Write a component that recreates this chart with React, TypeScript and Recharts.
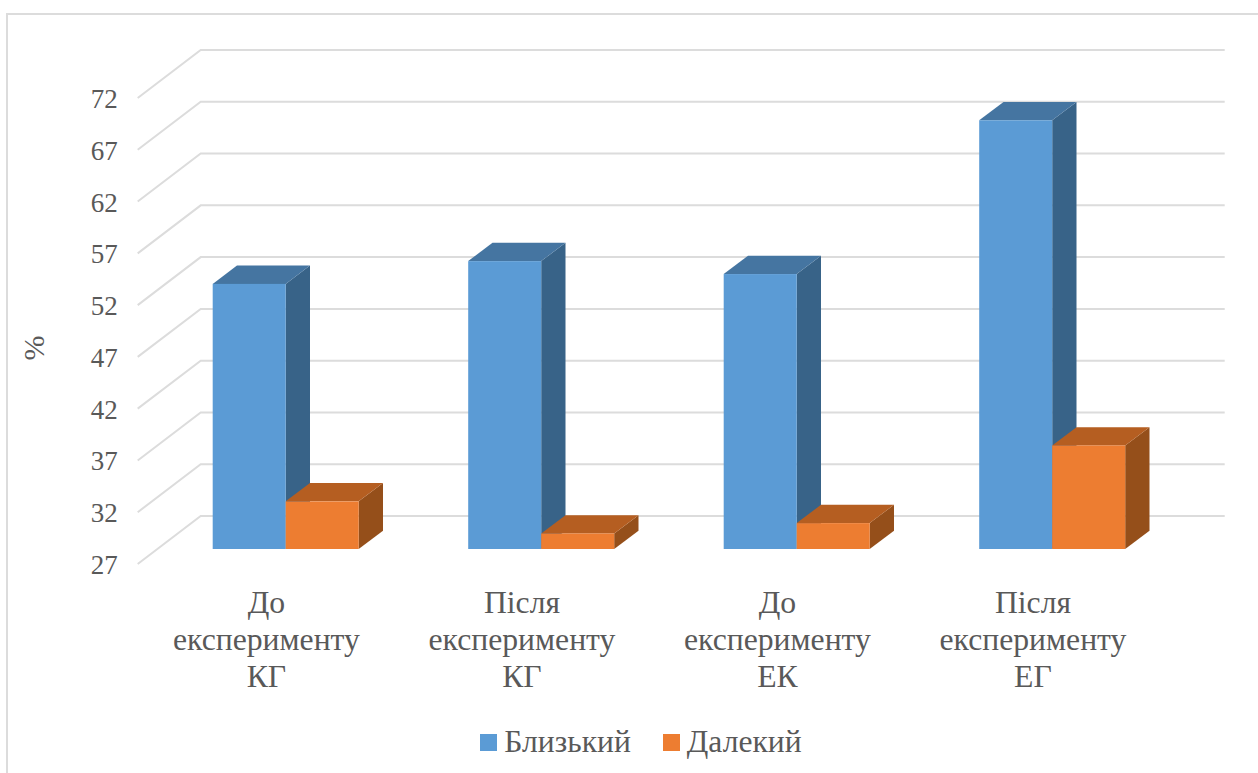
import { BarChart, Bar, XAxis, YAxis, CartesianGrid, Legend, Label } from 'recharts';

const categories = ['До експерименту КГ', 'Після експерименту КГ', 'До експерименту ЕК', 'Після експерименту ЕГ'];
const nearValues = [52.6, 54.8, 53.55, 68.4];
const farValues = [31.6, 28.5, 29.5, 37];
const yTicks = [27, 32, 37, 42, 47, 52, 57, 62, 67, 72];

const data = categories.map((name, i) => ({ name, near: nearValues[i], far: farValues[i] }));

const TEXT_COLOR = '#595959';
const GRID_COLOR = '#dcdcdc';
const FONT = '"Liberation Serif", serif';

// floor depth of the chart box: back wall vs. plane of the bar fronts vs. front edge
const BACK_DX = 43;
const BACK_DY = -33;
const FRONT_DX = -20;
const FRONT_DY = 15;
// depth of one bar
const BAR_DX = 24.3;
const BAR_DY = -18.3;

const Cuboid = ({ x, y, width, height, fill, topFill, sideFill }: any) => {
  const r = x + width;
  const b = y + height;
  return (
    <g>
      <polygon points={`${r},${y} ${r + BAR_DX},${y + BAR_DY} ${r + BAR_DX},${b + BAR_DY} ${r},${b}`} fill={sideFill} />
      <polygon points={`${x},${y} ${x + BAR_DX},${y + BAR_DY} ${r + BAR_DX},${y + BAR_DY} ${r},${y}`} fill={topFill} />
      <rect x={x} y={y} width={width} height={height} fill={fill} />
    </g>
  );
};

// each horizontal grid line runs along the back wall and folds forward along the side wall
const GridLine = ({ x1, x2, y1 }: any) => (
  <polyline
    points={`${x1 + FRONT_DX},${y1 + FRONT_DY} ${x1 + BACK_DX},${y1 + BACK_DY} ${x2 + BACK_DX + 2},${y1 + BACK_DY}`}
    fill="none"
    stroke={GRID_COLOR}
    strokeWidth={2}
  />
);

const YTick = ({ x, y, payload }: any) => (
  <text x={x - 32} y={y + FRONT_DY + 10} textAnchor="end" fontFamily={FONT} fontSize={27} fill={TEXT_COLOR}>
    {payload.value}
  </text>
);

const XTick = ({ x, y, payload }: any) => (
  <text x={x - 19} y={y} textAnchor="middle" fontFamily={FONT} fontSize={31.7} fill={TEXT_COLOR}>
    {payload.value.split(' ').map((line: string, i: number) => (
      <tspan key={i} x={x - 19} dy={i === 0 ? 56 : 37}>
        {line}
      </tspan>
    ))}
  </text>
);

const LegendRow = ({ payload }: any) => (
  <div style={{ display: 'flex', justifyContent: 'center', gap: 32, fontFamily: FONT, fontSize: 31.6, color: TEXT_COLOR, lineHeight: '36px', paddingLeft: 24 }}>
    {(payload || []).map((entry: any) => (
      <span key={entry.value} style={{ display: 'flex', alignItems: 'center', gap: 7 }}>
        <span style={{ width: 17, height: 17, background: entry.color, display: 'inline-block' }} />
        {entry.value}
      </span>
    ))}
  </div>
);

export default function App() {
  return (
    <div style={{ position: 'absolute', left: 0, top: 0, width: 1258, height: 773, overflow: 'hidden', background: '#fff' }}>
      <div style={{ position: 'absolute', left: 6, top: 13, right: 0, bottom: 0, borderTop: `2px solid ${GRID_COLOR}`, borderLeft: `2px solid ${GRID_COLOR}` }} />
      <BarChart
        width={1258}
        height={773}
        data={data}
        barSize={73}
        barGap={0}
        margin={{ top: 83, right: 78.3, bottom: 0, left: 57.7 }}
      >
        <CartesianGrid vertical={false} horizontal={(props: any) => <GridLine key={props.key} {...props} />} />
        <XAxis dataKey="name" height={224} axisLine={false} tickLine={false} interval={0} tick={<XTick />} />
        <YAxis width={100} domain={[27, 72]} ticks={yTicks} axisLine={false} tickLine={false} tick={<YTick />} interval={0}>
          <Label
            value="%"
            angle={-90}
            position="insideLeft"
            offset={-24}
            dy={32}
            style={{ fontFamily: FONT, fontSize: 30, fill: TEXT_COLOR, textAnchor: 'middle' }}
          />
        </YAxis>
        <Legend
          verticalAlign="middle"
          layout="horizontal"
          content={<LegendRow />}
          wrapperStyle={{ top: 724, left: 0, width: 1258, margin: 0 }}
        />
        <Bar
          dataKey="near"
          name="Близький"
          fill="#5b9bd5"
          isAnimationActive={false}
          shape={(p: any) => <Cuboid {...p} topFill="#4575a1" sideFill="#386388" />}
        />
        <Bar
          dataKey="far"
          name="Далекий"
          fill="#ed7d31"
          isAnimationActive={false}
          shape={(p: any) => <Cuboid {...p} topFill="#b55e21" sideFill="#954f1a" />}
        />
      </BarChart>
    </div>
  );
}
